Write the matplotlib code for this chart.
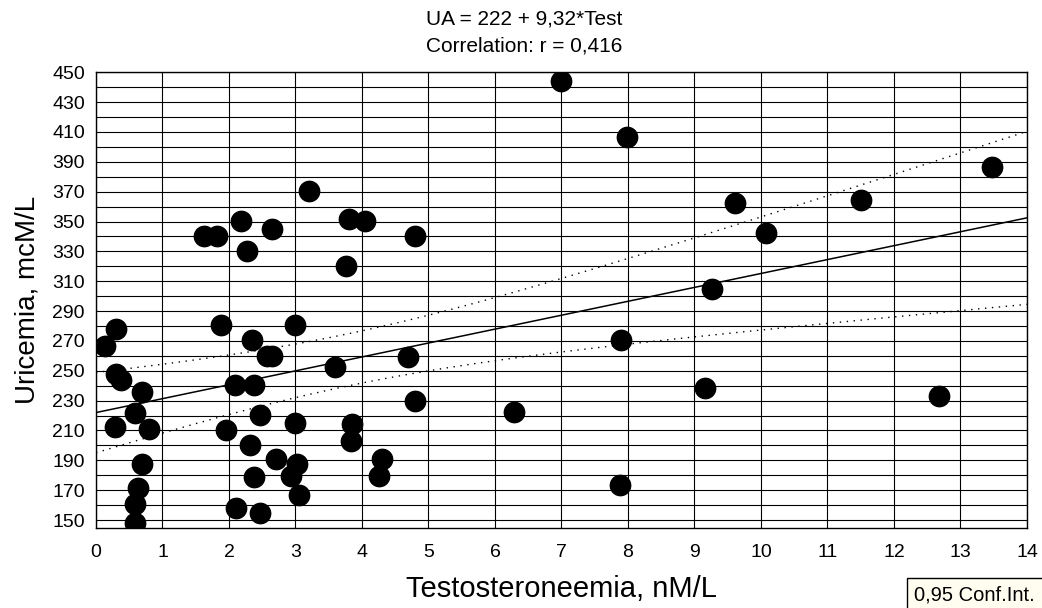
import numpy as np
import matplotlib
matplotlib.use('Agg')
import matplotlib.pyplot as plt
from matplotlib.patches import Rectangle

# testosterone (nM/L) and uric acid (mcM/L)
testo = [3.20, 1.62, 1.82, 2.18, 2.27, 2.65, 3.80, 4.04, 3.76, 4.79,
         1.88, 3.00, 0.30,
         0.13, 0.30, 0.375, 0.69, 0.59, 0.29, 0.80, 0.69, 0.63, 0.585, 0.58,
         2.34, 2.57, 2.65, 2.09, 2.37, 3.59, 4.69, 4.80, 2.46, 2.99, 1.95,
         2.31, 3.85, 3.83, 2.70, 3.03, 2.93, 2.37, 4.30, 4.25, 3.05, 2.11,
         2.46, 6.29,
         6.99, 7.99, 13.47, 9.61, 11.51, 10.08, 9.27, 7.89, 9.16, 12.67, 7.88]
uric = [370.4, 340.5, 340.5, 350.5, 330.4, 345.0, 351.7, 350.5, 320.4, 340.5,
        280.6, 280.6, 277.8,
        266.8, 247.8, 243.8, 235.9, 221.4, 212.5, 210.9, 187.3, 171.2, 160.5, 148.1,
        270.6, 260.1, 260.1, 240.4, 240.4, 252.7, 259.4, 229.9, 220.3, 214.7, 210.3,
        200.2, 214.1, 202.9, 190.8, 187.5, 179.6, 178.9, 190.8, 179.6, 166.7, 158.4,
        154.8, 222.1,
        444.4, 406.6, 386.7, 362.6, 364.4, 342.5, 304.6, 270.9, 238.2, 233.3, 173.2]

intercept = 222
slope = 9.32
r_value = '0,416'
t_crit = 2.002  # t(0.975, df=57)

plt.rcParams['font.family'] = ['Liberation Sans', 'DejaVu Sans']

x = np.array(testo)
y = np.array(uric)
n = len(x)
resid = y - (intercept + slope * x)
s = np.sqrt(np.sum(resid ** 2) / (n - 2))
xm = x.mean()
sxx = np.sum((x - xm) ** 2)

xx = np.linspace(0, 14, 200)
yy = intercept + slope * xx
half = t_crit * s * np.sqrt(1.0 / n + (xx - xm) ** 2 / sxx)

fig = plt.figure(figsize=(10.42, 6.08), dpi=100)
ax = fig.add_axes([0.0921, 0.1324, 0.8935, 0.7487])

ax.set_xlim(0, 14)
ax.set_ylim(145, 450)
ax.set_xticks(np.arange(0, 15, 1))
ax.set_yticks(np.arange(150, 451, 20))
ax.set_yticks(np.arange(160, 451, 20), minor=True)
ax.grid(True, which='both', color='black', linewidth=0.8)
ax.set_axisbelow(True)
ax.tick_params(which='both', length=0, labelsize=14, pad=8)
ax.tick_params(axis='x', pad=12)

ax.plot(xx, yy, color='black', linewidth=1.1)
ax.plot(xx, yy + half, color='black', linewidth=1.0, linestyle=(0, (1, 4)))
ax.plot(xx, yy - half, color='black', linewidth=1.0, linestyle=(0, (1, 4)))
ax.scatter(x, y, s=215, color='black', zorder=3)

for sp in ax.spines.values():
    sp.set_linewidth(1.0)

ax.set_xlabel('Testosteroneemia, nM/L', fontsize=21, labelpad=10)
ax.set_ylabel('Uricemia, mcM/L', fontsize=20, labelpad=8)

fig.text(0.503, 0.968, 'UA = %d + %s*Test' % (intercept, str(slope).replace('.', ',')),
         ha='center', va='center', fontsize=15)
fig.text(0.503, 0.925, 'Correlation: r = ' + r_value,
         ha='center', va='center', fontsize=15)

# legend box, runs off the bottom right corner like the original
fig.patches.append(Rectangle((0.8704, -0.05), 0.2, 0.0993, transform=fig.transFigure,
                             facecolor='#fffcf0', edgecolor='black', linewidth=1.0))
fig.text(0.877, 0.013, '0,95 Conf.Int.', fontsize=14.5, ha='left', va='baseline')

fig.savefig('out.png', dpi=100)
